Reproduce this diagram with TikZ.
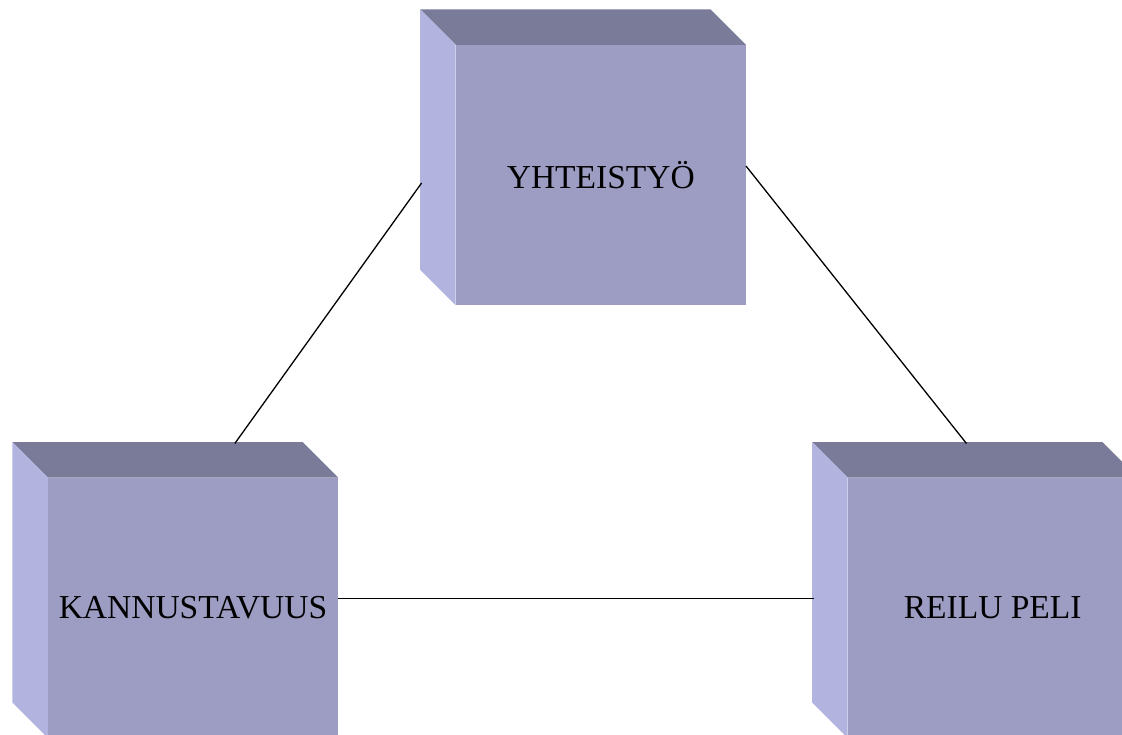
\documentclass[tikz,border=0pt]{standalone}
\usepackage{fontspec}
\setmainfont{Liberation Serif}
\usetikzlibrary{calc}
\definecolor{frontc}{RGB}{157,157,196}
\definecolor{topc}{RGB}{122,122,153}
\definecolor{sidec}{RGB}{179,179,224}
\tikzset{
  cube/.style={fill=frontc, minimum width=290pt, minimum height=260pt, inner sep=0pt,
    font=\fontsize{33.5}{40}\selectfont, text=black},
  topface/.style={fill=topc},
  sideface/.style={fill=sidec},
  link/.style={draw=black, line width=1.3pt}
}
\newcommand{\cubefaces}[1]{%
  \fill[topface] (#1.north west) -- ++(-35.5,-35.5) -- ($(#1.north east)+(-35.5,-35.5)$) -- (#1.north east) -- cycle;
  \fill[sideface] (#1.north west) -- ++(-35.5,-35.5) -- ($(#1.south west)+(-35.5,-35.5)$) -- (#1.south west) -- cycle;
}
\begin{document}
\begin{tikzpicture}[x=1pt,y=-1pt]
\useasboundingbox (0,0) rectangle (1122,734);
\node[cube] (t) at (600.8,175) {YHTEISTYÖ};
\node[cube] (k) at (193,607.7) {KANNUSTAVUUS};
\node[cube] (r) at (992.7,607.7) {REILU PELI};
\cubefaces{t}
\cubefaces{k}
\cubefaces{r}
\draw[link] ($(k.north west)+(187,-34)$) -- ($(t.west)+(-34,8)$);
\draw[link] ($(t.east)+(0,-9)$) -- ($(r.north west)+(119,-34)$);
\draw[link] ($(k.east)+(0,-9)$) -- ($(r.west)+(-33.5,-9)$);
\end{tikzpicture}
\end{document}
